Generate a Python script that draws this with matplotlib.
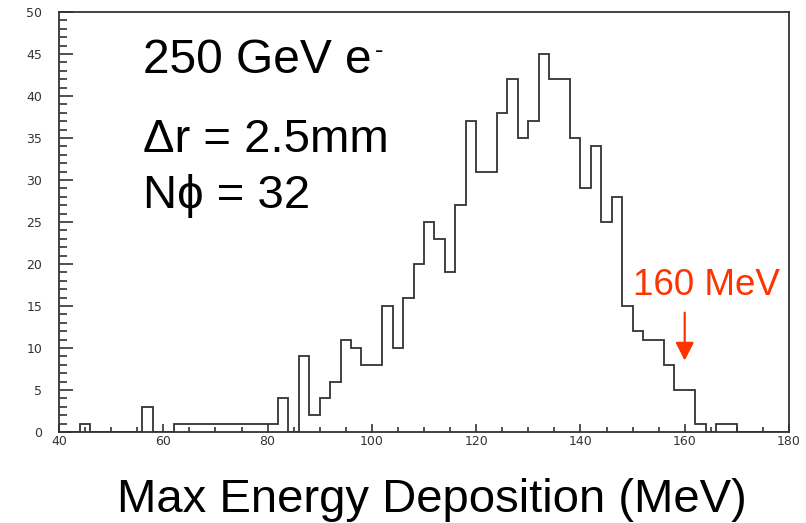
import matplotlib.pyplot as plt
import numpy as np
from matplotlib.ticker import MultipleLocator

# histogram: 2 MeV bins from 40 to 180
edges = np.arange(40, 182, 2)
counts = [0, 0, 1, 0, 0, 0, 0, 0, 3, 0,
          0, 1, 1, 1, 1, 1, 1, 1, 1, 1,
          1, 4, 0, 9, 2, 4, 6, 11, 10, 8,
          8, 15, 10, 16, 20, 25, 23, 19, 27, 37,
          31, 31, 38, 42, 35, 37, 45, 42, 42, 35,
          29, 34, 25, 28, 15, 12, 11, 11, 8, 5,
          5, 1, 0, 1, 1, 0, 0, 0, 0, 0]

title_lines = ["250 GeV e", "\u0394r = 2.5mm", "N\u03d5 = 32"]
marker_x = 160
marker_label = "160 MeV"
xlabel = "Max Energy Deposition (MeV)"

W, H = 806, 523
fig = plt.figure(figsize=(W / 100, H / 100), dpi=100)
ax = fig.add_axes([59 / W, (H - 432) / H, (789 - 59) / W, (432 - 12) / H])

ink = '#333333'
ax.stairs(counts, edges, baseline=0, color=ink, lw=1.3)

ax.set_xlim(40, 180)
ax.set_ylim(0, 50)
ax.xaxis.set_major_locator(MultipleLocator(20))
ax.xaxis.set_minor_locator(MultipleLocator(5))
ax.yaxis.set_major_locator(MultipleLocator(5))
ax.yaxis.set_minor_locator(MultipleLocator(1))

for s in ax.spines.values():
    s.set_color(ink)
    s.set_linewidth(1.3)

ax.tick_params(axis='x', which='major', direction='in', length=6, width=1.2,
               color=ink, labelsize=9, pad=2, labelcolor=ink)
ax.tick_params(axis='x', which='minor', direction='in', length=3.5, width=1.2, color=ink)
ax.tick_params(axis='y', which='major', direction='in', length=10, width=1.2,
               color=ink, labelsize=9, pad=12, labelcolor=ink)
ax.tick_params(axis='y', which='minor', direction='in', length=6, width=1.2, color=ink)

fam = ['Liberation Sans', 'DejaVu Sans']

def ftext(px, py, s, size, **kw):
    return fig.text(px / W, 1 - py / H, s, fontsize=size, family=fam, va='baseline', **kw)

t0 = ftext(143, 73, title_lines[0], 34.5)
ftext(143, 152, title_lines[1], 34)
ftext(143, 208, title_lines[2], 34)

# superscript minus after the "e"
r = fig.canvas.get_renderer()
bb = t0.get_window_extent(r)
ftext(bb.x1 + 3, 58, "-", 18)

red = '#ff3300'
ax.text(164.2, 16.3, marker_label, color=red, fontsize=26.5, family=fam,
        ha='center', va='baseline')
ax.annotate('', xy=(marker_x, 8.5), xytext=(marker_x, 14.2),
            arrowprops=dict(arrowstyle='-|>,head_width=0.28,head_length=0.55',
                            mutation_scale=20, color=red, lw=1.6, shrinkA=0, shrinkB=0))

ftext(432, 512, xlabel, 34, ha='center')

fig.savefig('out.png', dpi=100)
